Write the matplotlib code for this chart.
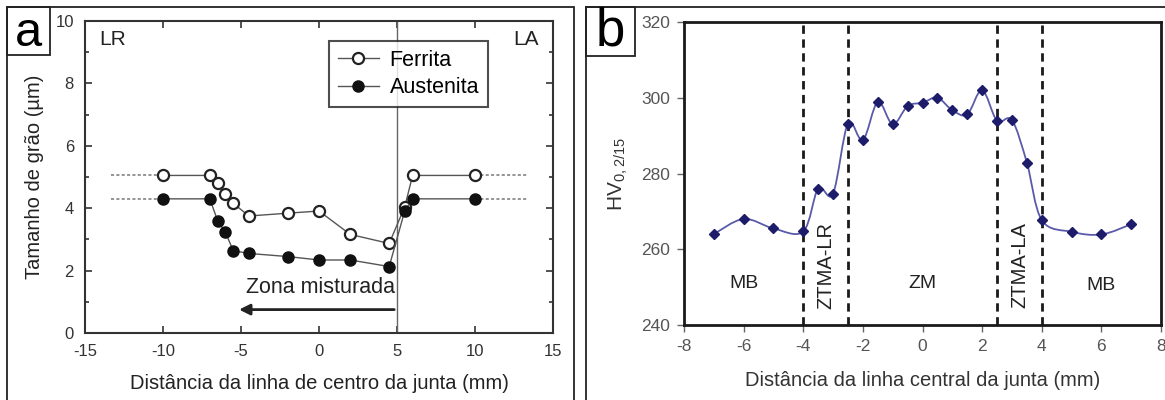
import matplotlib
matplotlib.use("Agg")
import matplotlib.pyplot as plt
import numpy as np
from matplotlib.path import Path
from matplotlib.patches import PathPatch, Rectangle
from matplotlib.ticker import MultipleLocator

plt.rcParams['font.family'] = ['Liberation Sans', 'DejaVu Sans']
plt.rcParams['axes.unicode_minus'] = False
plt.rcParams['mathtext.default'] = 'regular'

# grain size across the joint (panel a)
dist_a = [-10, -7, -6.5, -6, -5.5, -4.5, -2, 0, 2, 4.5, 5.5, 6, 10]
ferrita = [5.05, 5.05, 4.82, 4.44, 4.16, 3.75, 3.84, 3.91, 3.16, 2.87, 4.05, 5.05, 5.05]
austenita = [4.3, 4.3, 3.6, 3.23, 2.64, 2.55, 2.45, 2.34, 2.34, 2.13, 3.92, 4.3, 4.3]

# microhardness profile (panel b)
dist_b = [-7, -6, -5, -4, -3.5, -3, -2.5, -2, -1.5, -1, -0.5, 0, 0.5, 1, 1.5,
          2, 2.5, 3, 3.5, 4, 5, 6, 7]
hv = [264, 268, 265.5, 264.7, 276, 274.7, 293.2, 288.8, 298.9, 293, 297.8, 298.7,
      300, 296.7, 295.6, 302, 293.9, 294.1, 282.9, 267.7, 264.6, 263.9, 266.6]
zonas = [-4, -2.5, 2.5, 4]


def smooth_path(x, y, tension=0.5):
    # Catmull-Rom through the points, as cubic Bezier segments
    pts = np.column_stack([x, y]).astype(float)
    ext = np.vstack([pts[0], pts, pts[-1]])
    verts = [pts[0]]
    codes = [Path.MOVETO]
    for i in range(1, len(ext) - 2):
        p0, p1, p2, p3 = ext[i - 1], ext[i], ext[i + 1], ext[i + 2]
        c1 = p1 + (p2 - p0) * tension / 3
        c2 = p2 - (p3 - p1) * tension / 3
        verts += [c1, c2, p2]
        codes += [Path.CURVE4] * 3
    return Path(verts, codes)


fig = plt.figure(figsize=(11.65, 4.0), dpi=100)
W, H = 1165.0, 400.0

# panel frames
fig.patches.append(Rectangle((7 / W, -0.02), 567 / W, 1.0 - 7 / H + 0.02, transform=fig.transFigure,
                             fill=False, lw=1.3, ec='#222222'))
fig.patches.append(Rectangle((586 / W, -0.02), 0.5, 1.0 - 7 / H + 0.02, transform=fig.transFigure,
                             fill=False, lw=1.3, ec='#222222'))
fig.patches.append(Rectangle((7 / W, 1 - 55 / H), 43 / W, 48 / H, transform=fig.transFigure,
                             fill=False, lw=1.3, ec='#222222'))
fig.patches.append(Rectangle((586 / W, 1 - 56 / H), 49 / W, 49 / H, transform=fig.transFigure,
                             fill=False, lw=1.3, ec='#222222'))
fig.text(28 / W, 1 - 33 / H, 'a', fontsize=35, ha='center', va='center')
fig.text(610 / W, 1 - 31 / H, 'b', fontsize=38, ha='center', va='center')

# ---- panel a ----
ax1 = fig.add_axes([85 / W, 1 - 333 / H, (553 - 85) / W, (333 - 21) / H])
ax1.plot([-13.35, -10], [ferrita[0]] * 2, ls=(0, (2, 1.5)), color='#777777', lw=1.1)
ax1.plot([-13.35, -10], [austenita[0]] * 2, ls=(0, (2, 1.5)), color='#777777', lw=1.1)
ax1.plot([10, 13.35], [ferrita[-1]] * 2, ls=(0, (2, 1.5)), color='#777777', lw=1.1)
ax1.plot([10, 13.35], [austenita[-1]] * 2, ls=(0, (2, 1.5)), color='#777777', lw=1.1)
ax1.axvline(5, color='#666666', lw=1.0)
ax1.plot(dist_a, ferrita, '-o', color='#555555', lw=1.0, ms=8, mfc='white',
         mec='#222222', mew=1.6, label='Ferrita')
ax1.plot(dist_a, austenita, '-o', color='#555555', lw=1.0, ms=8, mfc='#111111',
         mec='#111111', mew=1.0, label='Austenita')
ax1.annotate('', xy=(-5.3, 0.75), xytext=(5, 0.75),
             arrowprops=dict(arrowstyle='-|>', color='#222222', lw=2.0, mutation_scale=16))
ax1.text(0.1, 1.45, 'Zona misturada', fontsize=15.5, ha='center', va='center', color='#222222')
ax1.text(-13.2, 9.4, 'LR', fontsize=15, ha='center', va='center', color='#222222')
ax1.text(13.3, 9.4, 'LA', fontsize=15, ha='center', va='center', color='#222222')
ax1.set_xlim(-15, 15)
ax1.set_ylim(0, 10)
ax1.xaxis.set_major_locator(MultipleLocator(5))
ax1.yaxis.set_major_locator(MultipleLocator(2))
ax1.yaxis.set_minor_locator(MultipleLocator(1))
ax1.tick_params(which='both', direction='in', top=True, right=True, width=1.2,
                labelsize=12, colors='#333333', pad=8)
ax1.tick_params(which='major', length=5)
ax1.tick_params(which='minor', length=3)
for s in ax1.spines.values():
    s.set_linewidth(1.5)
    s.set_color('#333333')
ax1.set_xlabel('Distância da linha de centro da junta (mm)', fontsize=14.5, color='#222222', labelpad=11)
ax1.set_ylabel('Tamanho de grão (µm)', fontsize=14.5, color='#222222', labelpad=8)
leg = ax1.legend(loc='upper left', bbox_to_anchor=(0.522, 0.935), fontsize=15.5, frameon=True,
                 fancybox=False, edgecolor='#222222', handlelength=1.9, handletextpad=0.5,
                 borderpad=0.4, labelspacing=0.3, borderaxespad=0)
leg.get_frame().set_linewidth(1.5)

# ---- panel b ----
ax2 = fig.add_axes([684 / W, 1 - 325 / H, (1161 - 684) / W, (325 - 22) / H])
for z in zonas:
    ax2.axvline(z, color='#1a1a1a', lw=2.0, ls=(0, (3, 2)))
ax2.add_patch(PathPatch(smooth_path(dist_b, hv), fill=False, ec='#5a5aaa', lw=1.3))
ax2.plot(dist_b, hv, 'D', color='#1c1c6b', ms=5, ls='none')
ax2.text(-6, 251, 'MB', fontsize=14, ha='center', va='center', color='#222222')
ax2.text(0, 251, 'ZM', fontsize=14, ha='center', va='center', color='#222222')
ax2.text(6, 250.5, 'MB', fontsize=14, ha='center', va='center', color='#222222')
ax2.text(-3.25, 255.8, 'ZTMA-LR', fontsize=14.5, ha='center', va='center', rotation=90, color='#222222')
ax2.text(3.25, 255.8, 'ZTMA-LA', fontsize=14.5, ha='center', va='center', rotation=90, color='#222222')
ax2.set_xlim(-8, 8)
ax2.set_ylim(240, 320)
ax2.xaxis.set_major_locator(MultipleLocator(2))
ax2.yaxis.set_major_locator(MultipleLocator(20))
ax2.tick_params(direction='out', length=5, width=1.0, labelsize=12.5, colors='#666666', pad=5)
ax2.tick_params(labelcolor='#555555')
for s in ax2.spines.values():
    s.set_linewidth(2.0)
    s.set_color('#1a1a1a')
ax2.set_xlabel('Distância da linha central da junta (mm)', fontsize=14.5, color='#333333', labelpad=12)
ax2.set_ylabel('HV$_{0,2/15}$', fontsize=15, color='#333333', labelpad=8)

fig.savefig('out.png', dpi=100)
